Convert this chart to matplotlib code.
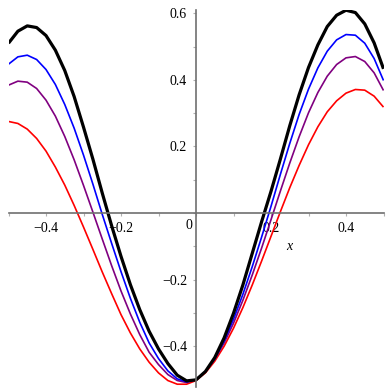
import matplotlib
matplotlib.use('Agg')
import matplotlib.pyplot as plt
import numpy as np
from matplotlib.ticker import MultipleLocator, FixedLocator

plt.rcParams['font.family'] = ['Liberation Serif', 'DejaVu Serif']

x_vals = np.round(np.arange(-0.5, 0.5001, 0.025), 3)

black_y = [0.510, 0.546, 0.562, 0.557, 0.533, 0.489, 0.428, 0.350, 0.258, 0.162,
           0.060, -0.038, -0.130, -0.215, -0.290, -0.355, -0.408, -0.452, -0.487, -0.504,
           -0.501, -0.476, -0.434, -0.375, -0.301, -0.216, -0.121, -0.026, 0.065, 0.162,
           0.262, 0.355, 0.437, 0.505, 0.560, 0.594, 0.609, 0.602, 0.568, 0.511, 0.433]
blue_y = [0.447, 0.469, 0.474, 0.461, 0.431, 0.386, 0.326, 0.255, 0.174, 0.087,
          -0.004, -0.091, -0.176, -0.256, -0.328, -0.390, -0.437, -0.474, -0.498, -0.507,
          -0.500, -0.476, -0.437, -0.384, -0.319, -0.244, -0.161, -0.072, 0.020, 0.116,
          0.209, 0.296, 0.372, 0.436, 0.486, 0.520, 0.536, 0.534, 0.510, 0.464, 0.398]
purple_y = [0.384, 0.396, 0.393, 0.374, 0.339, 0.291, 0.230, 0.160, 0.083, 0.003,
            -0.078, -0.158, -0.234, -0.303, -0.365, -0.418, -0.455, -0.485, -0.503, -0.509,
            -0.500, -0.476, -0.439, -0.390, -0.331, -0.262, -0.186, -0.105, -0.020, 0.066,
            0.150, 0.229, 0.301, 0.362, 0.411, 0.446, 0.466, 0.470, 0.455, 0.421, 0.368]
red_y = [0.275, 0.269, 0.252, 0.224, 0.186, 0.138, 0.084, 0.023, -0.042, -0.109,
         -0.177, -0.242, -0.305, -0.360, -0.408, -0.448, -0.480, -0.503, -0.514, -0.514,
         -0.503, -0.480, -0.445, -0.400, -0.346, -0.284, -0.216, -0.144, -0.070, 0.004,
         0.076, 0.143, 0.205, 0.259, 0.304, 0.337, 0.360, 0.371, 0.369, 0.351, 0.318]

x_ticks = [-0.4, -0.2, 0.2, 0.4]
x_ticklabels = ['\u22120.4', '\u22120.2', '0.2', '0.4']
y_ticks = [-0.4, -0.2, 0.2, 0.4, 0.6]
y_ticklabels = ['\u22120.4', '\u22120.2', '0.2', '0.4', '0.6']

fig = plt.figure(figsize=(3.92, 3.92), dpi=100)
ax = fig.add_axes([8.5 / 392, 4.8 / 392, 375 / 392, 377.3 / 392])

line_kw = dict(solid_joinstyle='round', solid_capstyle='butt')
ax.plot(x_vals, red_y, color='#ff0000', lw=1.2, **line_kw)
ax.plot(x_vals, purple_y, color='#800080', lw=1.2, **line_kw)
ax.plot(x_vals, blue_y, color='#0000ff', lw=1.2, **line_kw)
ax.plot(x_vals, black_y, color='black', lw=2.3, **line_kw)

ax.set_xlim(-0.5, 0.5)
ax.set_ylim(-0.523, 0.61)

for s in ['top', 'right']:
    ax.spines[s].set_visible(False)
ax.spines['left'].set_position(('data', 0))
ax.spines['bottom'].set_position(('data', 0))
for s in ['left', 'bottom']:
    ax.spines[s].set_color('#707070')
    ax.spines[s].set_linewidth(1.2)

ax.xaxis.set_major_locator(FixedLocator(x_ticks))
ax.set_xticklabels(x_ticklabels)
ax.yaxis.set_major_locator(FixedLocator(y_ticks))
ax.set_yticklabels(y_ticklabels)
ax.xaxis.set_minor_locator(MultipleLocator(0.1))
ax.yaxis.set_minor_locator(MultipleLocator(0.1))
ax.tick_params(which='both', direction='out', length=2.5, width=0.8,
               color='#b0b0b0', labelsize=10, pad=4)

ax.text(-0.019, -0.036, '0', ha='center', va='center', fontsize=10)
ax.text(0.248, -0.099, 'x', ha='center', va='center', fontsize=10, style='italic')

fig.savefig('out.png', dpi=100)
